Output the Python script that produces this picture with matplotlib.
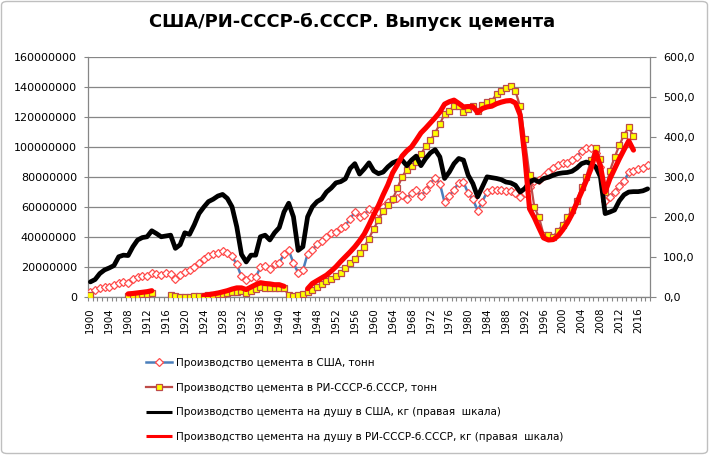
import numpy as np
import matplotlib
matplotlib.use('Agg')
import matplotlib.pyplot as plt
from matplotlib.ticker import FuncFormatter
from matplotlib.patches import FancyBboxPatch

years = list(range(1900, 2019))

# US cement production, million tonnes (left axis, shown in tonnes)
us_prod_mt = [
    3.3, 4.5, 5.5, 6.2, 6.7, 7.8, 8.9, 9.5, 9.0, 11.5,
    13.0, 13.5, 13.5, 15.5, 15.0, 14.5, 15.5, 15.0, 12.0, 14.4,
    16.5, 17.8, 20.0, 22.5, 25.0, 27.5, 28.5, 29.5, 30.5, 29.5,
    27.0, 21.5, 13.5, 11.0, 13.0, 13.0, 19.5, 20.5, 18.5, 21.5,
    22.5, 28.5, 31.0, 22.5, 16.0, 17.5, 28.5, 31.0, 35.0, 37.0,
    40.0, 42.5, 43.5, 46.0, 47.5, 52.0, 56.5, 53.0, 54.5, 58.5,
    57.0, 56.5, 60.0, 63.0, 65.5, 66.0, 68.0, 65.0, 69.5, 71.0,
    67.0, 71.0, 75.5, 79.5, 75.5, 63.0, 67.0, 71.5, 76.0, 76.5,
    69.0, 65.0, 57.5, 63.5, 70.0, 71.0, 71.5, 71.0, 70.5, 70.5,
    69.5, 66.5, 69.5, 73.5, 77.5, 78.0, 80.5, 83.0, 86.0, 88.0,
    89.0, 89.5, 91.0, 93.0, 97.5, 99.5, 99.5, 96.0, 86.5, 64.0,
    66.5, 70.0, 74.0, 77.0, 83.0, 84.0, 85.0, 86.0, 88.0,
]

# Russian Empire / USSR / former USSR cement production, million tonnes
ussr_prod_mt = [
    1.2, None, None, None, None, None, None, None, 0.8, 1.0,
    1.2, 1.5, 1.8, 2.4, None, None, None, 1.3, 0.6, 0.1,
    0.05, 0.06, 0.15, 0.3, 0.5, 0.9, 1.4, 1.6, 1.85, 2.2,
    3.0, 3.2, 3.5, 2.7, 3.5, 5.0, 6.3, 6.0, 6.0, 5.7,
    6.0, 5.5, 1.1, 0.8, 1.1, 1.8, 3.4, 4.7, 6.5, 8.4,
    10.2, 12.1, 13.9, 16.0, 19.0, 22.5, 24.9, 28.9, 33.3, 38.8,
    45.5, 50.9, 57.3, 61.0, 64.9, 72.4, 80.0, 84.8, 87.5, 89.7,
    95.2, 100.3, 104.3, 109.5, 115.1, 122.1, 124.2, 127.1, 127.0, 123.0,
    125.0, 127.2, 123.7, 128.2, 129.9, 130.8, 135.1, 137.4, 139.5, 140.4,
    137.3, 127.0, 105.0, 81.0, 60.0, 53.0, 41.0, 41.0, 40.0, 44.0,
    48.0, 53.0, 58.0, 64.0, 73.0, 80.0, 91.0, 99.5, 92.0, 70.0,
    84.0, 93.0, 101.0, 108.0, 113.0, 107.0, None, None, None,
]

# US cement per capita, kg (right axis)
us_per_capita = [
    37, 43, 58, 67, 72, 78, 100, 104, 103, 125,
    142, 148, 150, 165, 158, 150, 152, 154, 121, 130,
    160, 156, 180, 208, 224, 238, 244, 252, 256, 246,
    225, 175, 106, 87, 104, 104, 150, 154, 142, 160,
    173, 212, 234, 200, 116, 125, 200, 225, 238, 245,
    262, 272, 285, 288, 295, 321, 333, 307, 320, 335,
    315, 308, 312, 325, 335, 340, 342, 328, 342, 352,
    328, 346, 360, 368, 350, 296, 312, 333, 346, 342,
    304, 283, 250, 275, 300, 298, 296, 293, 287, 285,
    279, 262, 271, 287, 293, 287, 296, 299, 304, 308,
    310, 311, 314, 322, 333, 337, 333, 325, 300, 208,
    212, 217, 240, 255, 262, 263, 263, 265, 270,
]

# RI / USSR / former USSR cement per capita, kg (right axis)
ussr_per_capita = [
    None, None, None, None, None, None, None, None, 7, 8,
    9.5, 11, 12.5, 15, None, None, None, None, None, None,
    None, None, None, None, 3, 5, 7, 9, 12, 15,
    19, 22, 22, 18, 24, 30, 35, 33, 32, 30,
    30, 26, None, None, None, None, 20, 33, 40, 47,
    54, 64, 75, 88, 100, 112, 125, 140, 157, 180,
    205, 228, 255, 280, 310, 330, 352, 365, 375, 392,
    410, 422, 435, 448, 462, 482, 488, 492, 484, 475,
    476, 476, 461, 471, 475, 477, 483, 487, 490, 491,
    485, 455, 350, 220, 198, 172, 147, 142, 143, 152,
    167, 185, 207, 235, 262, 290, 320, 362, 327, 262,
    295, 320, 345, 368, 390, 367, None, None, None,
]

labels = [
    "Производство цемента в США, тонн",
    "Производство цемента в РИ-СССР-б.СССР, тонн",
    "Производство цемента на душу в США, кг (правая  шкала)",
    "Производство цемента на душу в РИ-СССР-б.СССР, кг (правая  шкала)",
]
title = "США/РИ-СССР-б.СССР. Выпуск цемента"


def arr(lst, scale=1.0):
    return np.array([np.nan if v is None else v * scale for v in lst], dtype=float)


N = len(years)
x = np.arange(N)
W, H = 709, 455

fig = plt.figure(figsize=(W / 100, H / 100), dpi=100)
fig.patch.set_facecolor('white')
border = FancyBboxPatch((1.5 / W, 1.5 / H), 1 - 3 / W, 1 - 3 / H,
                        boxstyle="round,pad=0,rounding_size=0.008",
                        transform=fig.transFigure, facecolor='none',
                        edgecolor='#BFBFBF', linewidth=1.0)
fig.patches.append(border)

left, right, top, bottom = 88, 650, 57, 296.7
ax = fig.add_axes([left / W, 1 - bottom / H, (right - left) / W, (bottom - top) / H])
ax2 = ax.twinx()

grid_col = '#868686'
ax.set_xlim(-0.5, N - 0.5)
ax.set_ylim(0, 160e6)
ax2.set_ylim(0, 600)

ax.set_yticks(np.arange(0, 160e6 + 1, 20e6))
ax.yaxis.set_major_formatter(FuncFormatter(lambda v, p: f"{int(round(v))}"))
ax.yaxis.grid(True, color=grid_col, linewidth=0.9)
ax.set_axisbelow(True)
ax2.set_yticks(np.arange(0, 601, 100))
ax2.yaxis.set_major_formatter(FuncFormatter(lambda v, p: f"{v:.1f}".replace('.', ',')))

ax.set_xticks(x[::4])
ax.set_xticklabels([str(y) for y in years[::4]], rotation=90, fontsize=7.3)
ax.set_xticks(np.arange(-0.5, N, 1), minor=True)
ax.tick_params(axis='x', which='major', length=0, pad=7.5)
ax.tick_params(axis='x', which='minor', length=3, width=0.8, color=grid_col, direction='out')
ax.tick_params(axis='y', length=3, width=0.8, color=grid_col, labelsize=8, pad=5)
ax2.tick_params(axis='y', length=4, width=0.8, color=grid_col, labelsize=8, pad=5.5)

for a in (ax, ax2):
    a.spines['top'].set_visible(False)
    for s in ('left', 'right', 'bottom'):
        a.spines[s].set_color(grid_col)
        a.spines[s].set_linewidth(0.9)
ax.spines['right'].set_visible(False)
ax2.spines['left'].set_visible(False)
ax2.spines['bottom'].set_visible(False)

l1, = ax.plot(x, arr(us_prod_mt, 1e6), color='#4A7EBB', lw=1.8, marker='D',
              markersize=3.7, markerfacecolor='white', markeredgecolor='#FF4B4B',
              markeredgewidth=0.9, label=labels[0], zorder=3)
l2, = ax.plot(x, arr(ussr_prod_mt, 1e6), color='#BE4B48', lw=1.6, marker='s',
              markersize=4.2, markerfacecolor='#FFFF00', markeredgecolor='#BE4B48',
              markeredgewidth=0.9, label=labels[1], zorder=3)
l3, = ax2.plot(x, arr(us_per_capita), color='black', lw=3.4, label=labels[2],
               solid_joinstyle='round', solid_capstyle='round', zorder=3)
l4, = ax2.plot(x, arr(ussr_per_capita), color='#FF0000', lw=3.7, label=labels[3],
               solid_joinstyle='round', solid_capstyle='round', zorder=4)

fig.text(0.497, 1 - 22 / H, title, ha='center', va='center', fontsize=12.9,
         fontweight='bold')

leg = fig.legend(handles=[l1, l2, l3, l4], loc='upper left',
                 bbox_to_anchor=(146 / W, 1 - 358 / H), frameon=False, fontsize=7.5,
                 handlelength=2.45, handletextpad=0.4, labelspacing=1.4,
                 borderpad=0, borderaxespad=0)
for h in leg.legend_handles[2:]:
    h.set_linewidth(2.2)
    h.set_solid_capstyle('butt')

fig.savefig('out.png', dpi=100)
